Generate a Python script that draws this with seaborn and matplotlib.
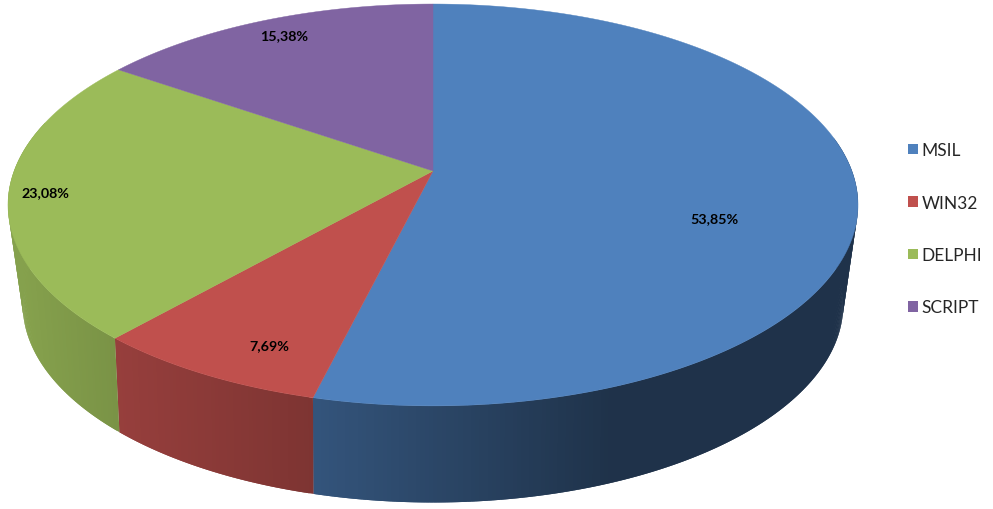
import numpy as np
import matplotlib
matplotlib.use("Agg")
from matplotlib import pyplot as plt
from matplotlib.collections import PolyCollection
from matplotlib.patches import Patch
import seaborn as sns

# chart data
categories = ['MSIL', 'WIN32', 'DELPHI', 'SCRIPT']
shares = [53.85, 7.69, 23.08, 15.38]
share_labels = ['53,85%', '7,69%', '23,08%', '15,38%']
colors = ['#4F81BD', '#C0504D', '#9BBB59', '#8064A2']

# where the labels sit, in pixels
label_pos = [(714, 219), (269, 346), (45, 193), (284, 36)]

CX = 433


# project a point on the unit circle to the picture, with perspective
def project(theta, a, b, cy, tilt):
    u, v = np.sin(theta), np.cos(theta)
    w = 1 + tilt * v
    return CX + a * u / w, cy - b * v / w


def top_rim(theta):
    return project(theta, 418.9, 195.2, 172, 0.169)


def low_rim(theta):
    return project(theta, 402, 190, 266, 0.2)


# side wall gets darker from left to right
def wall_shade(x):
    return np.interp(x, [20, 120, 316, 610], [0.86, 0.78, 0.65, 0.39])


sns.set_style("white")
plt.rcParams['font.family'] = ['Lato', 'DejaVu Sans']
palette = sns.color_palette(colors)

fig = plt.figure(figsize=(9.93, 5.10), dpi=100)
ax = fig.add_axes([0, 0, 1, 1])
ax.set_xlim(0, 993)
ax.set_ylim(510, 0)
ax.axis('off')

edges = np.radians(np.concatenate([[0], np.cumsum(shares)]) / sum(shares) * 360)
wall_from, wall_to = np.radians(80), np.radians(285)

# side walls first, strips overlap the next one so no seams show
for i, base in enumerate(palette):
    start, end = max(edges[i], wall_from), min(edges[i + 1], wall_to)
    if start >= end:
        continue
    steps = np.linspace(start, end, max(int((end - start) * 120), 2))
    polys, fills = [], []
    for k in range(len(steps) - 1):
        t0, t1 = steps[k], steps[min(k + 2, len(steps) - 1)]
        x0, y0 = top_rim(t0)
        x1, y1 = top_rim(t1)
        x2, y2 = low_rim(t1)
        x3, y3 = low_rim(t0)
        polys.append([(x0, y0), (x1, y1), (x2, y2), (x3, y3)])
        fills.append(np.array(base) * wall_shade((x0 + x1) / 2))
    ax.add_collection(PolyCollection(polys, facecolors=fills, edgecolors='none'))

# top face
for i, base in enumerate(palette):
    t = np.linspace(edges[i], edges[i + 1], 200)
    x, y = top_rim(t)
    ax.fill(np.r_[CX, x], np.r_[172, y], color=base, lw=0.3)

for text, (x, y) in zip(share_labels, label_pos):
    ax.text(x, y, text, ha='center', va='center', fontsize=10.3,
            fontweight='bold', color='black')

handles = [Patch(facecolor=c, edgecolor='none') for c in palette]
ax.legend(handles, categories, loc='center left', frameon=False,
          bbox_to_anchor=(0.9144, 0.5495), fontsize=12.5, handlelength=0.57,
          handleheight=0.57, handletextpad=0.22, labelspacing=2.1,
          borderpad=0, borderaxespad=0)

fig.savefig('out.png', dpi=100)
